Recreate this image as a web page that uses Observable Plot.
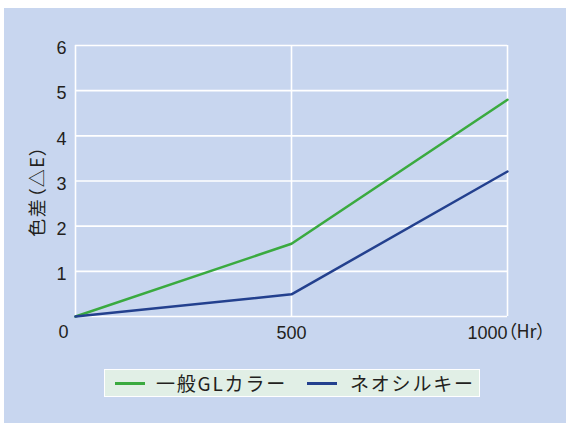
<!DOCTYPE html>
<html>
<head>
<meta charset="utf-8">
<script src="https://cdn.jsdelivr.net/npm/d3@7"></script>
<script src="https://cdn.jsdelivr.net/npm/@observablehq/plot@0.6"></script>
<style>
  html, body { margin: 0; padding: 0; background: #ffffff; }
  #wrap { position: relative; width: 566px; height: 423px; overflow: hidden; }
  #bg { position: absolute; left: 4px; top: 8px; right: 0; bottom: 0; background: #c8d6ef; }
  #chart { position: absolute; left: 0; top: 0; }
  svg text { font-feature-settings: "palt"; }
  svg text.ytitle, svg g.ytitle text { letter-spacing: 1.5px; }
  #legend {
    position: absolute; left: 104px; top: 369px; width: 374px; height: 26px;
    background: #e1efe6; border: 1px solid #ffffff;
    font-family: "Noto Sans CJK JP", sans-serif; font-size: 19px; color: #231f20;
    letter-spacing: 1.8px;
  }
  #legend .sw { position: absolute; top: 12px; width: 30px; height: 3px; }
  #legend .lb { position: absolute; top: 0; line-height: 26px; white-space: nowrap; }
</style>
</head>
<body>
<div id="wrap">
  <div id="bg"></div>
  <div id="chart"></div>
  <div id="legend"></div>
</div>
<script>
const hours = [0, 500, 1000];
const generalGL = [0, 1.61, 4.80];
const neoSilky = [0, 0.49, 3.21];
const seriesNames = ["一般GLカラー", "ネオシルキー"];
const seriesColors = ["#3aaa3f", "#23408e"];
const yTicks = [0, 1, 2, 3, 4, 5, 6];
const xTicks = [0, 500, 1000];
const xLabels = ["500", "1000"];
const xLabelValues = [500, 1000];
const xUnit = "（Hr）";
const yTitle = "色差（△E）";

const rows = [];
[generalGL, neoSilky].forEach((vals, s) => {
  hours.forEach((h, i) => rows.push({ series: seriesNames[s], hour: h, value: vals[i] }));
});

const numFont = "'Liberation Sans', Arial, sans-serif";
const jpFont = "'Noto Sans CJK JP', sans-serif";
const textColor = "#231f20";

const chart = Plot.plot({
  width: 566,
  height: 360,
  marginLeft: 75,
  marginRight: 59,
  marginTop: 45,
  marginBottom: 44,
  x: { domain: [0, 1000], axis: null },
  y: { domain: [0, 6], axis: null },
  color: { domain: seriesNames, range: seriesColors },
  style: { background: "transparent", fontFamily: numFont, fontSize: "18px", color: textColor, overflow: "visible" },
  marks: [
    Plot.ruleY(yTicks, { y: d => d, stroke: "#ffffff", strokeWidth: 1.6 }),
    Plot.ruleX(xTicks, { x: d => d, stroke: "#ffffff", strokeWidth: 1.6 }),
    Plot.line(rows, { x: "hour", y: "value", z: "series", stroke: "series", strokeWidth: 2.5 }),
    Plot.axisY(yTicks.filter(d => d > 0), { tickSize: 0, tickPadding: 9, fontSize: 18, dy: 3, label: null, fill: textColor, fontFamily: numFont }),
    Plot.text([0], { x: 0, y: 0, text: d => String(d), textAnchor: "end", dx: -7, dy: 16, fontSize: 18, fill: textColor, fontFamily: numFont }),
    Plot.text([xLabelValues[0]], { x: d => d, y: 0, text: () => xLabels[0], textAnchor: "middle", dy: 17, fontSize: 18, fill: textColor, fontFamily: numFont }),
    Plot.text([xLabelValues[1]], { x: d => d, y: 0, text: () => xLabels[1], textAnchor: "end", dy: 17, fontSize: 18, fill: textColor, fontFamily: numFont }),
    Plot.text([xLabelValues[1]], { x: d => d, y: 0, text: () => xUnit, textAnchor: "start", dx: 0, dy: 16, fontSize: 18, fill: textColor, fontFamily: jpFont }),
    Plot.text([yTitle], { frameAnchor: "left", textAnchor: "middle", text: d => d, rotate: -90, dx: -37, dy: 10, fontSize: 18, fill: textColor, fontFamily: jpFont, className: "ytitle" })
  ]
});
document.getElementById("chart").appendChild(chart);

// legend
const legend = document.getElementById("legend");
const swLeft = [10, 202];
const lbLeft = [51, 245];
seriesNames.forEach((name, i) => {
  const sw = document.createElement("div");
  sw.className = "sw";
  sw.style.left = swLeft[i] + "px";
  sw.style.background = seriesColors[i];
  legend.appendChild(sw);
  const lb = document.createElement("div");
  lb.className = "lb";
  lb.style.left = lbLeft[i] + "px";
  lb.textContent = name;
  legend.appendChild(lb);
});
</script>
</body>
</html>
